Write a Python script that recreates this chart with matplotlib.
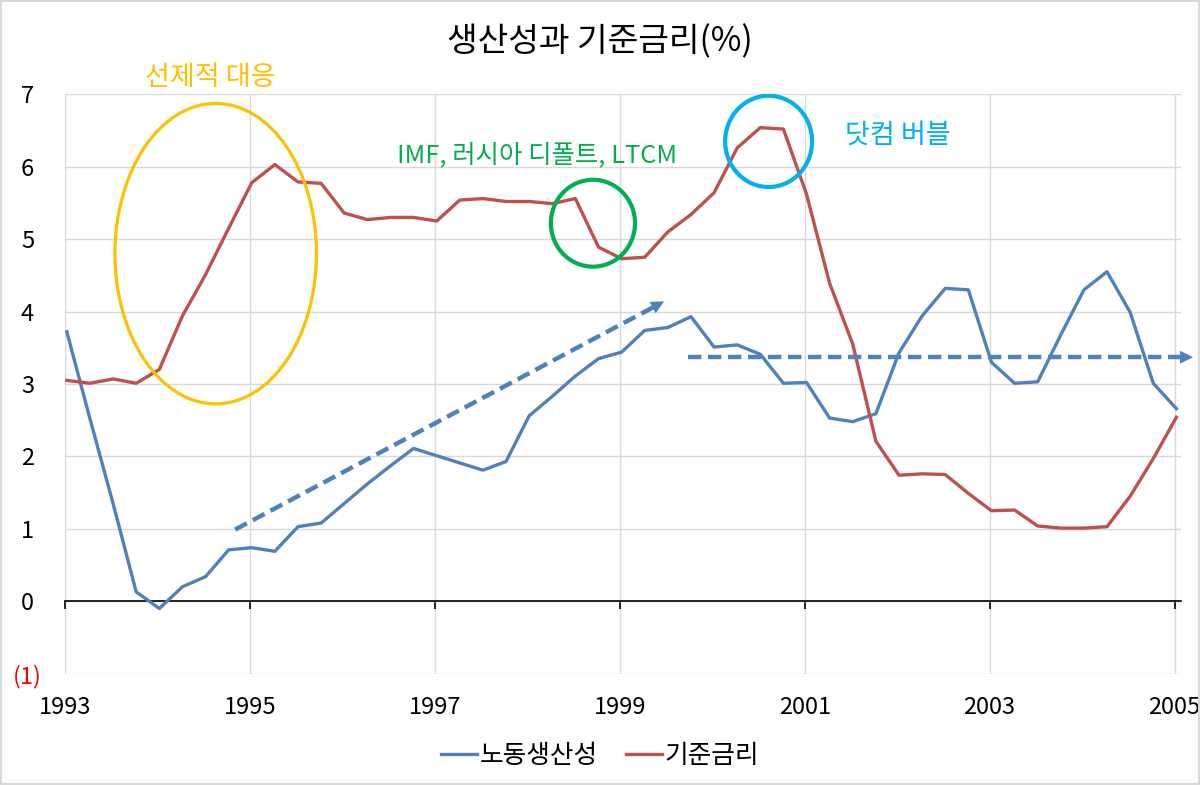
import numpy as np
import matplotlib
matplotlib.use('Agg')
import matplotlib.pyplot as plt
from matplotlib.patches import Ellipse, Rectangle

plt.rcParams['font.family'] = ['Noto Sans CJK KR', 'DejaVu Sans']

# ---------------- data (quarterly, 1993Q1 - 2005Q1) ----------------
series_names = ['노동생산성', '기준금리']
productivity = [3.72, 2.52, 1.35, 0.13, -0.10, 0.20, 0.34, 0.71, 0.74, 0.69,
                1.03, 1.08, 1.35, 1.62, 1.87, 2.11, 2.01, 1.91, 1.81, 1.93,
                2.56, 2.83, 3.11, 3.35, 3.44, 3.74, 3.78, 3.93, 3.51, 3.54,
                3.41, 3.01, 3.02, 2.53, 2.48, 2.59, 3.43, 3.94, 4.32, 4.30,
                3.30, 3.01, 3.03, 3.68, 4.30, 4.55, 3.99, 3.01, 2.66]
policy_rate = [3.05, 3.01, 3.07, 3.01, 3.20, 3.94, 4.51, 5.15, 5.78, 6.03,
               5.79, 5.77, 5.36, 5.27, 5.30, 5.30, 5.25, 5.54, 5.56, 5.52,
               5.52, 5.49, 5.56, 4.89, 4.73, 4.75, 5.10, 5.34, 5.64, 6.26,
               6.54, 6.52, 5.62, 4.39, 3.55, 2.21, 1.74, 1.76, 1.75, 1.49,
               1.25, 1.26, 1.04, 1.01, 1.01, 1.03, 1.45, 1.97, 2.54]
start_year = 1993
quarter_offset = 0.08
year_ticks = [1993, 1995, 1997, 1999, 2001, 2003, 2005]
y_ticks = [-1, 0, 1, 2, 3, 4, 5, 6, 7]
y_tick_labels = ['(1)', '0', '1', '2', '3', '4', '5', '6', '7']

title = '생산성과 기준금리(%)'
note_1 = '선제적 대응'
note_2 = 'IMF, 러시아 디폴트, LTCM'
note_3 = '닷컴 버블'

BLUE = '#4F81BD'
RED = '#C0504D'
YELLOW = '#FFC000'
GREEN = '#00B050'
CYAN = '#00B0F0'
GRID = '#D9D9D9'

x = start_year + (np.arange(len(productivity)) + quarter_offset) / 4.0

W, H = 1200, 785
fig = plt.figure(figsize=(W / 100, H / 100), dpi=100)
fig.patch.set_facecolor('white')
left_px, right_px, top_px, bottom_px = 65, 1181, 94.3, 673.7
ax = fig.add_axes([left_px / W, (H - bottom_px) / H,
                   (right_px - left_px) / W, (bottom_px - top_px) / H])

ax.set_xlim(1993, 2005.07)
ax.set_ylim(-1, 7)

l1, = ax.plot(x, productivity, color=BLUE, lw=2.4, label=series_names[0],
              solid_joinstyle='round', zorder=3)
l2, = ax.plot(x, policy_rate, color=RED, lw=2.4, label=series_names[1],
              solid_joinstyle='round', zorder=3)

ax.set_xticks(year_ticks)
ax.set_xticklabels([str(y) for y in year_ticks])
ax.set_yticks(y_ticks)
ax.set_yticklabels(y_tick_labels)
ax.grid(True, color=GRID, lw=1.0)
ax.set_axisbelow(True)

for s in ['left', 'right', 'top']:
    ax.spines[s].set_visible(False)
ax.spines['bottom'].set_position(('data', 0))
ax.spines['bottom'].set_color('black')
ax.spines['bottom'].set_linewidth(1.2)
ax.spines['bottom'].set_zorder(2)

ax.tick_params(axis='x', direction='out', length=5.5, width=1.2, pad=63,
               labelsize=17, colors='black')
ax.tick_params(axis='y', length=0, pad=27, labelsize=17)
for lbl in ax.get_yticklabels():
    lbl.set_ha('center')
ax.get_yticklabels()[0].set_color('red')

# ---------------- annotations ----------------
ax.add_patch(Ellipse((1994.63, 4.80), 2.18, 4.15, fill=False, ec=YELLOW,
                     lw=2.3, zorder=4))
ax.add_patch(Ellipse((1998.71, 5.22), 0.91, 1.20, fill=False, ec=GREEN,
                     lw=3.0, zorder=4))
ax.add_patch(Ellipse((2000.61, 6.35), 0.94, 1.26, fill=False, ec=CYAN,
                     lw=3.0, zorder=4))

ax.text(1994.57, 7.23, note_1, color=YELLOW, fontsize=19.5, ha='center',
        va='center', clip_on=False)
ax.text(1998.11, 6.16, note_2, color=GREEN, fontsize=18.3, ha='center',
        va='center')
ax.text(2002.01, 6.44, note_3, color=CYAN, fontsize=19.5, ha='center',
        va='center')


def dashed_arrow(p0, p1, head_len_px=13, head_w_px=13, lw=3.2):
    t = ax.transData
    d0 = np.array(t.transform(p0))
    d1 = np.array(t.transform(p1))
    v = d1 - d0
    u = v / np.hypot(*v)
    dend = d1 - u * head_len_px * 0.9
    pend = t.inverted().transform(dend)
    ax.plot([p0[0], pend[0]], [p0[1], pend[1]], color=BLUE, lw=lw,
            ls=(0, (3.0, 1.5)), dash_capstyle='butt', clip_on=False, zorder=5)
    pback = t.inverted().transform(d1 - u * head_len_px * 2)
    hl = head_len_px * 0.72 / 10.0
    hw = head_w_px * 0.72 / 2 / 10.0
    ax.annotate('', xy=p1, xytext=pback, annotation_clip=False,
                arrowprops=dict(arrowstyle=f'-|>,head_length={hl},head_width={hw}',
                                lw=0, color=BLUE, fc=BLUE, ec=BLUE,
                                shrinkA=0, shrinkB=0, mutation_scale=10),
                zorder=5)


dashed_arrow((1994.84, 0.99), (1999.48, 4.14))
dashed_arrow((1999.74, 3.37), (2005.20, 3.37))

# ---------------- title, legend, border ----------------
fig.text(0.5, (H - 42) / H, title, ha='center', va='center', fontsize=24)

fig.legend(handles=[l1, l2], loc='center', bbox_to_anchor=(0.5, (H - 756) / H),
           ncol=2, frameon=False, fontsize=18.5, handlelength=1.4,
           handletextpad=0.1, columnspacing=1.1)

fig.add_artist(Rectangle((0.001, 0.001), 0.998, 0.998, transform=fig.transFigure,
                         fill=False, ec=GRID, lw=1.5))

fig.savefig('out.png', dpi=100)
